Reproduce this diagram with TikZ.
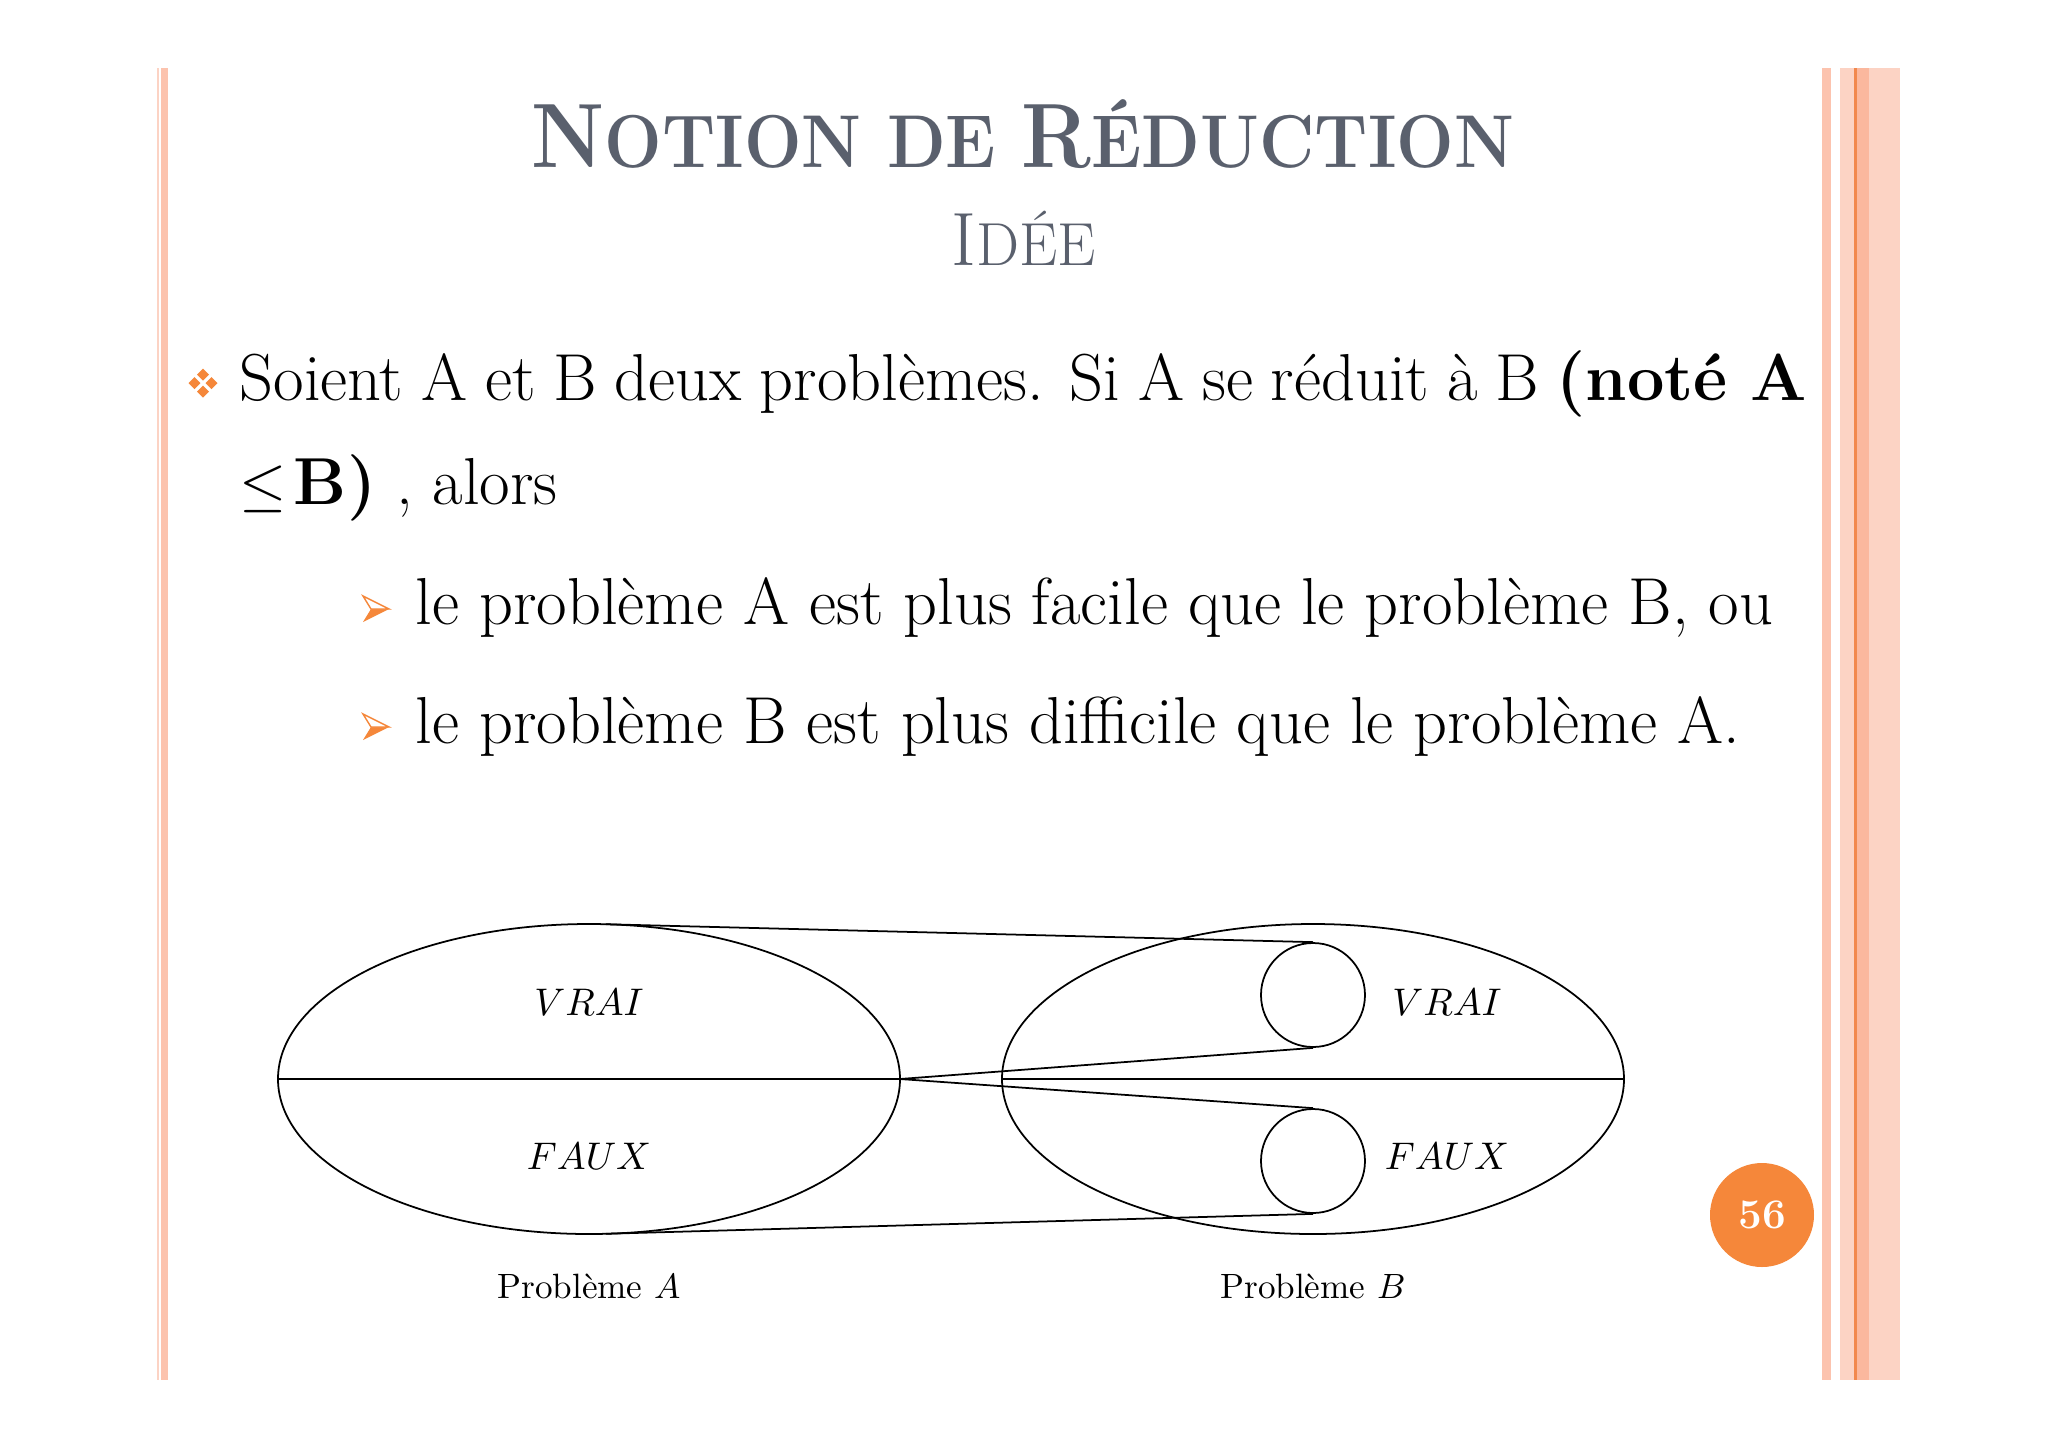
\documentclass[tikz,border=0pt]{standalone}
\usepackage{graphicx}
\usetikzlibrary{calc}
\definecolor{titlegray}{HTML}{5A606D}
\definecolor{orng}{HTML}{F5873A}
\definecolor{salmon}{HTML}{FCC3AE}
\definecolor{salmonl}{HTML}{FCD3C4}
\definecolor{salmond}{HTML}{FBB89E}
\definecolor{orngline}{HTML}{F2884D}
\tikzset{
  dline/.style={black, line width=0.5pt},
  bodytext/.style={anchor=base west, inner sep=0pt, font=\fontsize{18.9}{21}\selectfont},
  lbl/.style={inner sep=0pt, font=\fontsize{10.5}{12}\selectfont},
  plbl/.style={inner sep=0pt, font=\fontsize{10}{12}\selectfont},
}
\begin{document}
\begin{tikzpicture}[x=1cm,y=1cm]
\useasboundingbox (0,0) rectangle (20.48,-14.48);
\fill[white] (0,0) rectangle (20.48,-14.48);
% stripes left
\fill[salmonl] (1.57,-0.68) rectangle (1.59,-13.80);
\fill[salmon] (1.61,-0.68) rectangle (1.68,-13.80);
% stripes right
\fill[salmon] (18.22,-0.68) rectangle (18.31,-13.80);
\fill[salmonl] (18.40,-0.68) rectangle (19.00,-13.80);
\fill[salmond] (18.57,-0.68) rectangle (18.69,-13.80);
\fill[orngline] (18.54,-0.68) rectangle (18.57,-13.80);
% title
\node[anchor=base, inner sep=0pt, text=titlegray, font=\bfseries] (title) at (10.23,-1.67)
  {\scalebox{0.91}[1]{\fontsize{26}{28}\selectfont N\fontsize{21.3}{24}\selectfont OTION DE \fontsize{26}{28}\selectfont R\fontsize{21.3}{24}\selectfont ÉDUCTION}};
\node[anchor=base, inner sep=0pt, text=titlegray] (subtitle) at (10.24,-2.65)
  {\fontsize{21.5}{24}\selectfont I\fontsize{17.3}{20}\selectfont DÉE};
% bullet 1
\coordinate (b1) at (2.03,-3.83);
\foreach \dx/\dy in {-0.085/0, 0.085/0, 0/0.085, 0/-0.085}
  \fill[orng] ($(b1)+(\dx,\dy)+(-0.06,0)$) -- ($(b1)+(\dx,\dy)+(0,0.06)$) -- ($(b1)+(\dx,\dy)+(0.06,0)$) -- ($(b1)+(\dx,\dy)+(0,-0.06)$) -- cycle;
\node[bodytext] (l1) at (2.39,-4.00)
  {\makebox[15.67cm][s]{Soient A et B deux problèmes. Si A se réduit à B \textbf{(noté A}}};
\node[bodytext] (l2) at (2.39,-5.04) {$\leq$\kern2pt\textbf{B)} , alors};
% sub bullets
\foreach \yy/\nm in {-6.09/a1, -7.27/a2}{
  \coordinate (\nm) at (3.76,\yy);
  \fill[orng] ($(\nm)+(-0.05,0)$) -- ($(\nm)+(0.13,0)$) -- ($(\nm)+(-0.13,-0.13)$) -- cycle;
  \draw[orng, line width=0.4pt, fill=white, line join=miter] ($(\nm)+(-0.13,0.13)$) -- ($(\nm)+(0.13,0)$) -- ($(\nm)+(-0.05,0)$) -- cycle;
}
\node[bodytext] (s1) at (4.15,-6.24) {le problème A est plus facile que le problème B, ou};
\node[bodytext] (s2) at (4.15,-7.43) {le problème B est plus difficile que le problème A.};
% diagram
\coordinate (cA) at (5.89,-10.79);
\coordinate (cB) at (13.13,-10.79);
\draw[dline] (cA) ellipse [x radius=3.11, y radius=1.55];
\draw[dline] (cB) ellipse [x radius=3.11, y radius=1.55];
\coordinate (Aw) at ($(cA)+(-3.11,0)$);
\coordinate (Ae) at ($(cA)+(3.11,0)$);
\coordinate (Bw) at ($(cB)+(-3.11,0)$);
\coordinate (Be) at ($(cB)+(3.11,0)$);
\draw[dline] (Aw) -- (Ae);
\draw[dline] (Bw) -- (Be);
\node[draw, circle, minimum size=1.04cm, inner sep=0pt, line width=0.5pt] (cv) at (13.13,-9.95) {};
\node[draw, circle, minimum size=1.04cm, inner sep=0pt, line width=0.5pt] (cf) at (13.13,-11.61) {};
\coordinate (tA1) at ($(cA)+(86.9:3.11 and 1.55)$);
\coordinate (tA2) at ($(cA)+(-86.9:3.11 and 1.55)$);
\draw[dline] (tA1) -- (cv.north);
\draw[dline] (Ae) -- (cv.south);
\draw[dline] (Ae) -- (cf.north);
\draw[dline] (tA2) -- (cf.south);
\node[lbl] (vA) at (5.89,-10.02) {$VRAI$};
\node[lbl] (fA) at (5.89,-11.56) {$FAUX$};
\node[lbl] (vB) at (14.47,-10.02) {$VRAI$};
\node[lbl] (fB) at (14.47,-11.56) {$FAUX$};
\node[plbl] (pA) at (5.89,-12.86) {Problème $A$};
\node[plbl] (pB) at (13.13,-12.86) {Problème $B$};
% page number
\node[circle, fill=orng, minimum size=1.04cm, inner sep=0pt, text=white, font=\bfseries\fontsize{12}{12}\selectfont] (pg) at (17.62,-12.15) {56};
\end{tikzpicture}
\end{document}
